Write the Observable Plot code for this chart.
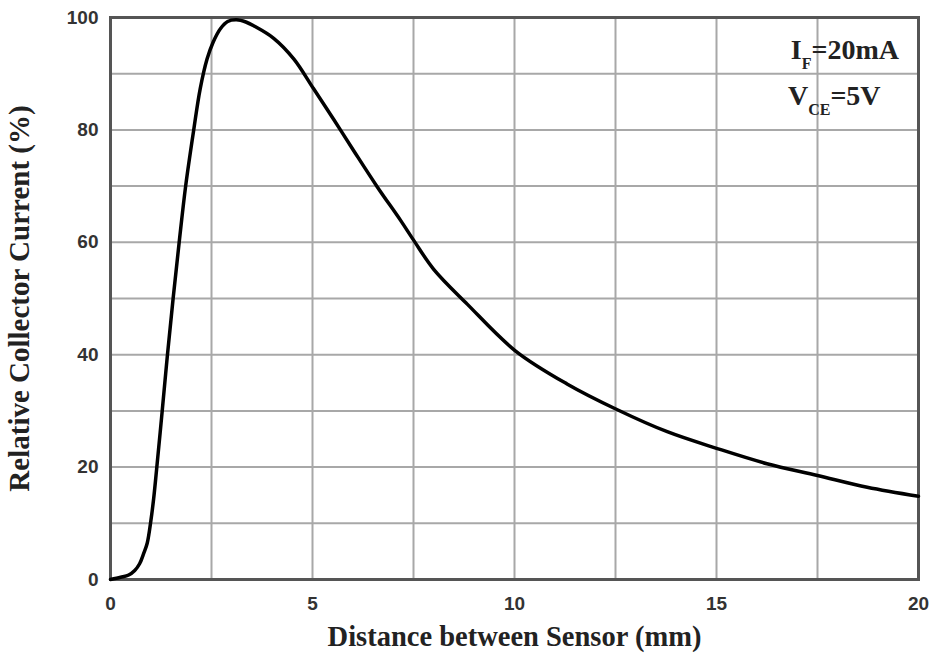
<!DOCTYPE html>
<html>
<head>
<meta charset="utf-8">
<script src="https://cdn.jsdelivr.net/npm/d3@7"></script>
<script src="https://cdn.jsdelivr.net/npm/@observablehq/plot@0.6"></script>
<style>
  html, body { margin: 0; padding: 0; background: #fff; }
</style>
</head>
<body>
<div id="chart"></div>
<script>
const distance = [0, 0.25, 0.45, 0.6, 0.72, 0.82, 0.91, 1.0, 1.07, 1.14, 1.28, 1.41, 1.55, 1.70, 1.86, 2.06, 2.22, 2.39, 2.54, 2.72, 2.9, 3.12, 3.35, 3.55, 4.04, 4.54, 5.02, 5.53, 6.02, 6.6, 7.18, 7.51, 8.0, 8.83, 10.02, 11.3, 12.52, 13.78, 15.02, 16.25, 17.5, 18.73, 20];
const current  = [0, 0.4, 0.8, 1.6, 2.8, 4.6, 6.5, 10.5, 14.5, 19.5, 30, 40, 50, 60, 70, 80, 87.3, 92.6, 95.6, 98, 99.3, 99.6, 99.2, 98.5, 96.3, 92.6, 87.4, 81.8, 76.3, 69.9, 63.9, 60.3, 55.2, 49.0, 40.7, 34.8, 30.3, 26.3, 23.3, 20.6, 18.5, 16.4, 14.8];

const xTicks = [0, 5, 10, 15, 20];
const yTicks = [0, 20, 40, 60, 80, 100];
const xGrid = [0, 2.5, 5, 7.5, 10, 12.5, 15, 17.5, 20];
const yGrid = [0, 10, 20, 30, 40, 50, 60, 70, 80, 90, 100];

const xTitle = "Distance between Sensor (mm)";
const yTitle = "Relative Collector Current (%)";
const annotation = [
  {x: 16.85, y: 92.5, main: "I", sub: "F", rest: "=20mA"},
  {x: 16.78, y: 84.4, main: "V", sub: "CE", rest: "=5V"}
];

const data = distance.map((d, i) => ({distance: d, current: current[i]}));

const plot = Plot.plot({
  width: 933,
  height: 661,
  marginLeft: 110,
  marginRight: 15,
  marginTop: 17,
  marginBottom: 82,
  style: {fontFamily: "'Liberation Sans', Arial, sans-serif", background: "#fff"},
  x: {domain: [0, 20]},
  y: {domain: [0, 100]},
  marks: [
    Plot.ruleX(xGrid, {stroke: "#a8a8a8", strokeWidth: 2, strokeOpacity: 1}),
    Plot.ruleY(yGrid, {stroke: "#a8a8a8", strokeWidth: 2, strokeOpacity: 1}),
    Plot.axisX({ticks: xTicks, tickSize: 0, tickPadding: 17, fontSize: 19, fontWeight: "bold", fill: "#333", label: null}),
    Plot.axisY({ticks: yTicks, tickSize: 0, tickPadding: 12, fontSize: 19, fontWeight: "bold", fill: "#333", label: null}),
    Plot.frame({stroke: "#555", strokeWidth: 3}),
    Plot.line(data, {x: "distance", y: "current", stroke: "#000", strokeWidth: 3.5, curve: "catmull-rom"}),
    Plot.text([xTitle], {frameAnchor: "bottom", dy: 66, textAnchor: "middle", fontSize: 28.5, fontWeight: "bold", fontFamily: "'Liberation Serif', 'Times New Roman', serif", fill: "#222"}),
    Plot.text([yTitle], {frameAnchor: "left", dx: -91, textAnchor: "middle", rotate: -90, fontSize: 29, fontWeight: "bold", fontFamily: "'Liberation Serif', 'Times New Roman', serif", fill: "#222"})
  ]
});

document.getElementById("chart").appendChild(plot);

// Annotation with subscripts, positioned through Plot's scales
const sx = plot.scale("x"), sy = plot.scale("y");
const svg = d3.select(plot);
annotation.forEach(a => {
  const t = svg.append("text")
    .attr("x", sx.apply(a.x))
    .attr("y", sy.apply(a.y))
    .attr("text-anchor", "start")
    .attr("font-family", "'Liberation Serif', 'Times New Roman', serif")
    .attr("font-weight", "bold")
    .attr("font-size", 28)
    .attr("fill", "#222");
  t.append("tspan").text(a.main);
  t.append("tspan").attr("font-size", 16).attr("dy", 10).text(a.sub);
  t.append("tspan").attr("dy", -10).text(a.rest);
});
</script>
</body>
</html>
